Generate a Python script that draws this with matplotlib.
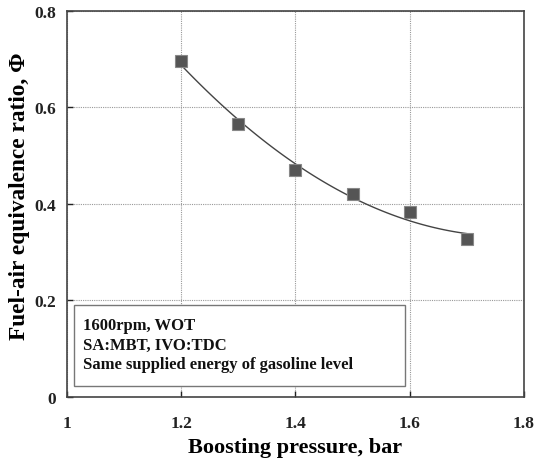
import numpy as np
import matplotlib
matplotlib.use("Agg")
import matplotlib.pyplot as plt
from matplotlib.patches import Rectangle

pressure = [1.2, 1.3, 1.4, 1.5, 1.6, 1.7]
phi = [0.696, 0.566, 0.470, 0.420, 0.383, 0.327]
xticks = [1.0, 1.2, 1.4, 1.6, 1.8]
xticklabels = ["1", "1.2", "1.4", "1.6", "1.8"]
yticks = [0.0, 0.2, 0.4, 0.6, 0.8]
yticklabels = ["0", "0.2", "0.4", "0.6", "0.8"]
note_lines = ["1600rpm, WOT", "SA:MBT, IVO:TDC", "Same supplied energy of gasoline level"]

plt.rcParams['font.family'] = ['Liberation Serif', 'DejaVu Serif']

fig = plt.figure(figsize=(5.34, 4.60), dpi=100)
ax = fig.add_axes([0.1255, 0.135, 0.8555, 0.839])

# trend line (2nd order polynomial fit of the data)
coef = np.polyfit(pressure, phi, 2)
xs = np.linspace(min(pressure), max(pressure), 100)
ax.plot(xs, np.polyval(coef, xs), color='#444444', lw=1.0, zorder=3)

ax.plot(pressure, phi, ls='none', marker='s', markersize=8.5,
        markerfacecolor='#555555', markeredgecolor='#888888', markeredgewidth=0.8, zorder=4)

ax.set_xlim(1.0, 1.8)
ax.set_ylim(0.0, 0.8)
ax.set_xticks(xticks)
ax.set_xticklabels(xticklabels)
ax.set_yticks(yticks)
ax.set_yticklabels(yticklabels)
ax.tick_params(direction='in', length=4, width=1, labelsize=12.5, pad=8, colors='#222222')
ax.tick_params(axis='x', pad=13)
for lab in ax.get_xticklabels() + ax.get_yticklabels():
    lab.set_fontweight('bold')
ax.grid(True, color='#999999', linestyle=(0, (1, 1)), linewidth=0.8)
ax.set_axisbelow(True)
for s in ax.spines.values():
    s.set_color('#444444')
    s.set_linewidth(1.2)

ax.set_xlabel("Boosting pressure, bar", fontsize=16, fontweight='bold', labelpad=4)
ax.set_ylabel("Fuel-air equivalence ratio, Φ", fontsize=16.8, fontweight='bold', labelpad=3)
ax.yaxis.label.set_y(0.522)

# annotation box
box = Rectangle((0.015, 0.0285), 0.724, 0.21, transform=ax.transAxes,
                facecolor='white', edgecolor='#777777', linewidth=1.0, zorder=5)
ax.add_patch(box)
for i, line in enumerate(note_lines):
    ax.text(0.035, 0.1865 - i * 0.0505, line, transform=ax.transAxes, fontsize=12,
            fontweight='bold', va='center', ha='left', zorder=6, color='#111111')

fig.savefig("out.png", dpi=100)
